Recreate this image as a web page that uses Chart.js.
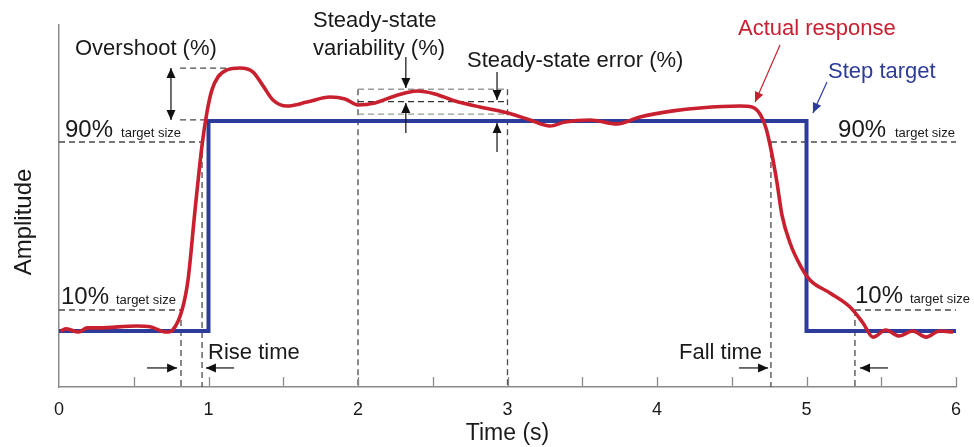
<!DOCTYPE html>
<html>
<head>
<meta charset="utf-8">
<script src="https://cdn.jsdelivr.net/npm/chart.js@4"></script>
<style>
  html, body { margin: 0; padding: 0; background: #fff; }
</style>
</head>
<body>
<canvas id="chart" width="974" height="447"></canvas>
<script>
// --- data ---
const xTickLabels = ['0', '1', '2', '3', '4', '5', '6'];

const stepTime = [0, 1, 1, 5, 5, 6];
const stepTarget = [0, 0, 1, 1, 0, 0];

const responseTime = [
    0.01, 0.05, 0.13, 0.19, 0.27, 0.52, 0.61, 0.72, 0.76,
    0.823, 0.863, 0.91, 0.957, 0.99, 1.023, 1.064, 1.124, 1.211, 1.298, 1.365, 1.431, 1.525, 1.659, 1.813, 1.913,
    2.0, 2.114, 2.247, 2.395, 2.515, 2.649, 2.816, 3.003, 3.151, 3.284, 3.385, 3.552, 3.732, 3.886,
    4.107, 4.288, 4.555, 4.635, 4.689, 4.729, 4.763, 4.803, 4.836, 4.89, 4.957, 5.023, 5.157, 5.291,
    5.378, 5.445, 5.53, 5.62, 5.71, 5.80, 5.89, 5.98
];
const responseValue = [
    0.0, 0.01, -0.005, 0.015, 0.015, 0.024, 0.02, -0.005, 0.005,
    0.10, 0.243, 0.576, 0.886, 1.043, 1.148, 1.21, 1.243, 1.252, 1.233, 1.167, 1.10, 1.071, 1.09, 1.114, 1.105,
    1.076, 1.086, 1.119, 1.143, 1.129, 1.095, 1.067, 1.038, 1.005, 0.976, 0.995, 1.005, 0.986, 1.019,
    1.048, 1.062, 1.071, 1.067, 1.033, 0.967, 0.862, 0.705, 0.552, 0.419, 0.314, 0.243, 0.181, 0.114,
    0.038, -0.029, 0.005, -0.024, 0.0, -0.029, 0.0, -0.005
];

// landmarks of the response (s and fraction of target)
const riseStart = 0.816, riseEnd = 0.957;
const fallStart = 4.762, fallEnd = 5.324;
const peakTime = 1.211, peakValue = 1.252;
const ssFrom = 2, ssTo = 3;
const ssHigh = 1.151, ssMid = 1.092, ssLow = 1.033;

const yMin = -0.2667, yMax = 1.457;

const RED = '#c8202f';
const BLUE = '#2d3c9b';
const AXIS = '#8a8a8a';
const INK = '#1a1a1a';
const FONT = '"Liberation Sans", Arial, Helvetica, sans-serif';

const zip = (xs, ys) => xs.map((x, i) => ({ x, y: ys[i] }));
const seg = (x1, y1, x2, y2) => [{ x: x1, y: y1 }, { x: x2, y: y2 }];

const guide = (data, color = '#4a4a4a') => ({
    data, borderColor: color, borderWidth: 1.3, borderDash: [6, 4],
    pointRadius: 0, showLine: true, order: 2, tension: 0
});

const guides = [
    guide(seg(0, 0.9, riseEnd, 0.9)),
    guide(seg(0, 0.1, riseStart, 0.1)),
    guide(seg(fallStart, 0.9, 6, 0.9)),
    guide(seg(fallEnd, 0.1, 6, 0.1)),
    guide(seg(riseStart, 0.1, riseStart, yMin)),
    guide(seg(riseEnd, 0.9, riseEnd, yMin)),
    guide(seg(fallStart, 0.9, fallStart, yMin)),
    guide(seg(fallEnd, 0.1, fallEnd, yMin)),
    guide(seg(0.81, peakValue, peakTime, peakValue)),
    guide(seg(0.81, 1.005, 0.99, 1.005)),
    guide(seg(ssFrom, ssHigh, ssTo, ssHigh), '#9a9a9a'),
    guide(seg(ssFrom, ssMid, ssTo, ssMid), '#333'),
    guide(seg(ssFrom, ssLow, ssTo, ssLow), '#9a9a9a'),
    guide(seg(ssFrom, ssHigh, ssFrom, yMin)),
    guide(seg(ssTo, ssHigh, ssTo, yMin))
];

// text notes in data units (left edge, baseline)
const notes = [
    { text: 'Overshoot (%)', t: 0.107, v: 1.314, size: 22 },
    { text: 'Steady-state', t: 1.699, v: 1.448, size: 22 },
    { text: 'variability (%)', t: 1.699, v: 1.314, size: 22 },
    { text: 'Steady-state error (%)', t: 2.729, v: 1.257, size: 22 },
    { text: 'Actual response', t: 4.542, v: 1.41, size: 22, color: RED },
    { text: 'Step target', t: 5.144, v: 1.205, size: 22, color: BLUE },
    { text: '90%', t: 0.04, v: 0.924, size: 24 },
    { text: 'target size', t: 0.415, v: 0.924, size: 13 },
    { text: '10%', t: 0.013, v: 0.129, size: 24 },
    { text: 'target size', t: 0.381, v: 0.129, size: 13 },
    { text: '90%', t: 5.211, v: 0.924, size: 24 },
    { text: 'target size', t: 5.592, v: 0.924, size: 13 },
    { text: '10%', t: 5.324, v: 0.133, size: 24 },
    { text: 'target size', t: 5.692, v: 0.133, size: 13 },
    { text: 'Rise time', t: 0.997, v: -0.133, size: 22 },
    { text: 'Fall time', t: 4.147, v: -0.133, size: 22 }
];

const arrows = [
    { from: [0.589, -0.176], to: [0.79, -0.176] },
    { from: [1.171, -0.176], to: [0.983, -0.176] },
    { from: [4.548, -0.176], to: [4.743, -0.176] },
    { from: [5.545, -0.176], to: [5.358, -0.176] },
    { from: [2.32, 1.305], to: [2.32, 1.157] },
    { from: [2.32, 0.943], to: [2.32, 1.086] },
    { from: [2.93, 1.233], to: [2.93, 1.10] },
    { from: [2.93, 0.852], to: [2.93, 0.99] },
    { from: [0.749, 1.005], to: [0.749, peakValue], both: true },
    { from: [4.823, 1.362], to: [4.656, 1.09], color: RED },
    { from: [5.137, 1.186], to: [5.043, 1.038], color: BLUE }
];

const drawHead = (ctx, x1, y1, x2, y2, len = 10, half = 4.5) => {
    const a = Math.atan2(y2 - y1, x2 - x1);
    ctx.beginPath();
    ctx.moveTo(x2, y2);
    ctx.lineTo(x2 - len * Math.cos(a) + half * Math.sin(a), y2 - len * Math.sin(a) - half * Math.cos(a));
    ctx.lineTo(x2 - len * Math.cos(a) - half * Math.sin(a), y2 - len * Math.sin(a) + half * Math.cos(a));
    ctx.closePath();
    ctx.fill();
};

const notesPlugin = {
    id: 'notes',
    afterDatasetsDraw(chart) {
        const { ctx, scales: { x, y } } = chart;
        const px = t => x.getPixelForValue(t);
        const py = v => y.getPixelForValue(v);
        ctx.save();

        // inner tick marks on the time axis
        ctx.strokeStyle = AXIS;
        ctx.lineWidth = 1.3;
        x.ticks.forEach(tk => {
            if (tk.value <= 0) return;
            const X = Math.round(px(tk.value)) + 0.5;
            ctx.beginPath();
            ctx.moveTo(X, y.bottom);
            ctx.lineTo(X, y.bottom - 10);
            ctx.stroke();
        });

        // arrows
        arrows.forEach(a => {
            const c = a.color || '#111';
            const x1 = px(a.from[0]), y1 = py(a.from[1]);
            const x2 = px(a.to[0]), y2 = py(a.to[1]);
            ctx.strokeStyle = c;
            ctx.fillStyle = c;
            ctx.lineWidth = 1.2;
            ctx.beginPath();
            ctx.moveTo(x1, y1);
            ctx.lineTo(x2, y2);
            ctx.stroke();
            drawHead(ctx, x1, y1, x2, y2);
            if (a.both) drawHead(ctx, x2, y2, x1, y1);
        });

        // text
        ctx.textBaseline = 'alphabetic';
        ctx.textAlign = 'left';
        notes.forEach(n => {
            ctx.fillStyle = n.color || INK;
            ctx.font = `${n.size}px ${FONT}`;
            ctx.fillText(n.text, px(n.t), py(n.v));
        });

        // y axis name
        ctx.save();
        ctx.translate(px(-0.234), py(0.519));
        ctx.rotate(-Math.PI / 2);
        ctx.textAlign = 'center';
        ctx.textBaseline = 'middle';
        ctx.fillStyle = INK;
        ctx.font = `24px ${FONT}`;
        ctx.fillText('Amplitude', 0, 0);
        ctx.restore();

        ctx.restore();
    }
};

new Chart(document.getElementById('chart'), {
    type: 'scatter',
    data: {
        datasets: [
            {
                label: 'Actual response',
                data: zip(responseTime, responseValue),
                borderColor: RED, borderWidth: 3.6, pointRadius: 0,
                showLine: true, cubicInterpolationMode: 'monotone', order: 0
            },
            {
                label: 'Step target',
                data: zip(stepTime, stepTarget),
                borderColor: BLUE, borderWidth: 4, pointRadius: 0,
                showLine: true, tension: 0, order: 1,
                borderJoinStyle: 'miter'
            },
            ...guides
        ]
    },
    options: {
        responsive: false,
        animation: false,
        events: [],
        layout: { padding: { top: 25, right: 18, left: 0, bottom: 0 } },
        plugins: { legend: { display: false }, tooltip: { enabled: false } },
        scales: {
            x: {
                type: 'linear', min: 0, max: 6,
                grid: { display: false, drawTicks: false },
                border: { display: true, color: AXIS, width: 1.5 },
                ticks: {
                    stepSize: 0.5, autoSkip: false, maxRotation: 0, padding: 12,
                    color: INK, font: { family: FONT, size: 18 },
                    callback: v => (Number.isInteger(v) ? xTickLabels[v] : '')
                },
                title: {
                    display: true, text: 'Time (s)', color: INK,
                    font: { family: FONT, size: 23 }, padding: { top: 0, bottom: 0 }
                },
                afterFit: s => { s.height = 60; }
            },
            y: {
                type: 'linear', min: yMin, max: yMax,
                grid: { display: false, drawTicks: false },
                border: { display: true, color: AXIS, width: 1.5 },
                ticks: { display: false },
                afterFit: s => { s.width = 59; }
            }
        }
    },
    plugins: [notesPlugin]
});
</script>
</body>
</html>
